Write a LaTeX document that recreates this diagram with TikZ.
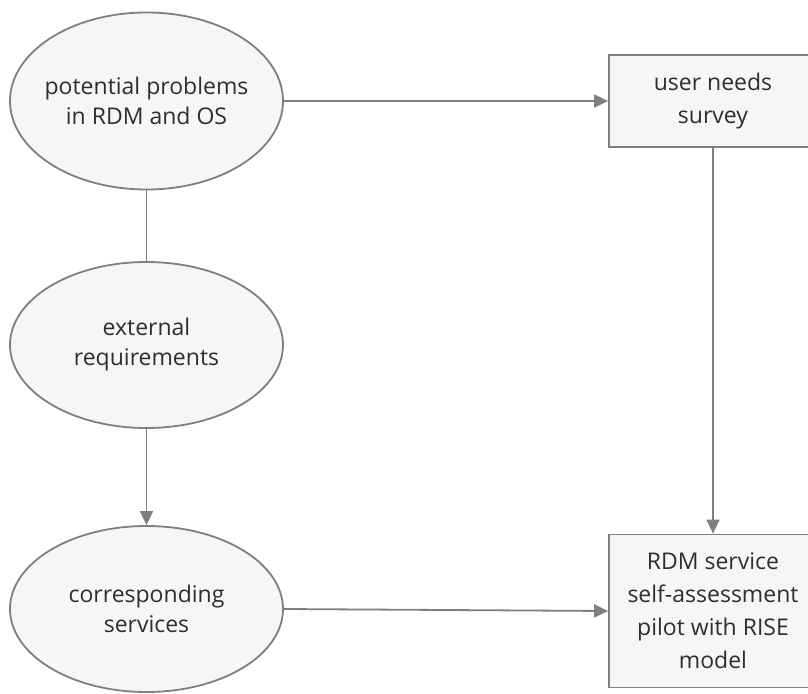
\documentclass[tikz,border=0pt]{standalone}
\usepackage{fontspec}
\setmainfont{Open Sans}
\usetikzlibrary{arrows.meta,shapes.geometric}
\definecolor{linegray}{HTML}{7F7F7F}
\definecolor{shapefill}{HTML}{F6F6F6}
\definecolor{textgray}{HTML}{2E2E2E}
\tikzset{
  topic/.style={ellipse, draw=linegray, line width=1.8pt, fill=shapefill, text=textgray,
    align=center, inner ysep=0pt, inner xsep=-30pt, minimum width=273pt, minimum height=166pt,
    font=\fontsize{23}{30}\selectfont},
  result/.style={rectangle, draw=linegray, line width=1.8pt, fill=shapefill, text=textgray,
    align=center, inner sep=0pt, minimum width=208pt,
    font=\fontsize{23}{33}\selectfont},
  link/.style={-{Triangle[length=14pt,width=13pt]}, line width=1.8pt, draw=linegray},
  plain/.style={line width=1.8pt, draw=linegray}
}

\begin{document}
\begin{tikzpicture}[x=1pt, y=-1pt]
  \clip (0,0) rectangle (808,693);
  \fill[white] (0,0) rectangle (808,693);

  \node[topic, minimum height=177pt] (problems) at (146.5,101) {potential problems\\in RDM and OS};
  \node[topic] (external) at (146.5,345) {external\\requirements};
  \node[topic] (services) at (146.5,609) {corresponding\\services};

  \node[result, minimum height=92pt] (needs) at (713,101) {user needs\\survey};
  \node[result, minimum height=153pt] (pilot) at (713,611) {RDM service\\self-assessment\\pilot with RISE\\model};

  \draw[plain] (problems.south) -- (external.north);
  \draw[link] (external.south) -- (services.north);
  \draw[link] (problems.east) -- (needs.west);
  \draw[link] (services.east) -- (pilot.west);
  \draw[link] (needs.south) -- (pilot.north);
\end{tikzpicture}
\end{document}
